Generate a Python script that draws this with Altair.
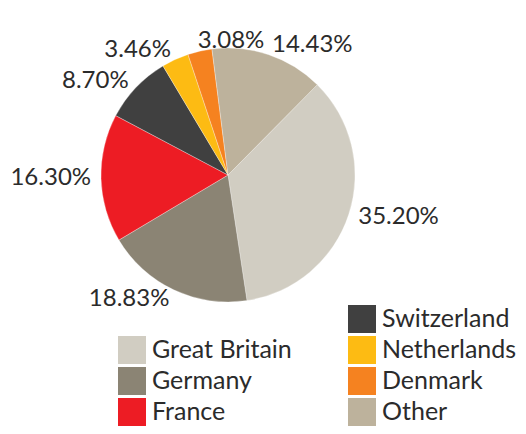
import altair as alt
import pandas as pd

countries = ["Great Britain", "Germany", "France", "Switzerland", "Netherlands", "Denmark", "Other"]
shares = [35.20, 18.83, 16.30, 8.70, 3.46, 3.08, 14.43]
colors = ["#d1cdc2", "#8b8474", "#ed1c24", "#404040", "#fdbb13", "#f58220", "#bdb29c"]
group_a = countries[:3]
group_b = countries[3:]

df = pd.DataFrame({"country": countries, "share": shares, "order": list(range(len(countries)))})

FONT = "Lato"
TXT = "#2b2b2b"
start = 0.78
theta_scale = alt.Scale(domain=[0, 100], range=[start, start + 6.283185307179586])

base = alt.Chart(df).transform_window(
    cum="sum(share)", sort=[alt.SortField("order")], frame=[None, 0]
).transform_calculate(
    t0="datum.cum - datum.share",
    mid="datum.cum - datum.share / 2",
    pct="format(datum.share, '.2f') + '%'",
    ang="(" + str(start) + " + datum.mid / 100 * 2 * PI) * 180 / PI % 360",
)

def legend(x, y):
    return alt.Legend(
        title=None, orient="none", legendX=x, legendY=y, symbolType="square",
        symbolSize=784, symbolStrokeWidth=0, labelFontSize=25, labelFont=FONT,
        labelColor=TXT, rowPadding=3, labelOffset=6, padding=0, symbolOffset=0,
    )

arc_a = base.transform_filter(alt.FieldOneOfPredicate(field="country", oneOf=group_a)).mark_arc(
    radius=127, stroke="white", strokeWidth=0.3
).encode(
    theta=alt.Theta("t0:Q", scale=theta_scale),
    theta2="cum:Q",
    color=alt.Color("country:N", scale=alt.Scale(domain=group_a, range=colors[:3]),
                    legend=legend(110, 328), sort=group_a),
)
arc_b = base.transform_filter(alt.FieldOneOfPredicate(field="country", oneOf=group_b)).mark_arc(
    radius=127, stroke="white", strokeWidth=0.3
).encode(
    theta=alt.Theta("t0:Q", scale=theta_scale),
    theta2="cum:Q",
    color=alt.Color("country:N", scale=alt.Scale(domain=group_b, range=colors[3:]),
                    legend=legend(340, 297), sort=group_b),
)

lab_left = base.transform_filter("datum.ang >= 180 && datum.ang < 345").mark_text(
    radius=137, align="right", baseline="middle", fontSize=24, font=FONT, color=TXT
).encode(theta=alt.Theta("mid:Q", scale=theta_scale), text="pct:N")
lab_right = base.transform_filter("datum.ang < 180 || datum.ang >= 345").mark_text(
    radius=137, align="left", baseline="middle", fontSize=24, font=FONT, color=TXT
).encode(theta=alt.Theta("mid:Q", scale=theta_scale), text="pct:N")

chart = alt.layer(arc_a, arc_b, lab_left, lab_right).resolve_scale(
    color="independent", theta="shared"
).properties(
    width=440, height=334,
    autosize=alt.AutoSizeParams(type="none"),
    padding={"left": 0, "top": 0, "right": 70, "bottom": 84},
).configure_view(stroke=None)

chart.save("out.html", embed_options={"renderer": "svg", "actions": False})
